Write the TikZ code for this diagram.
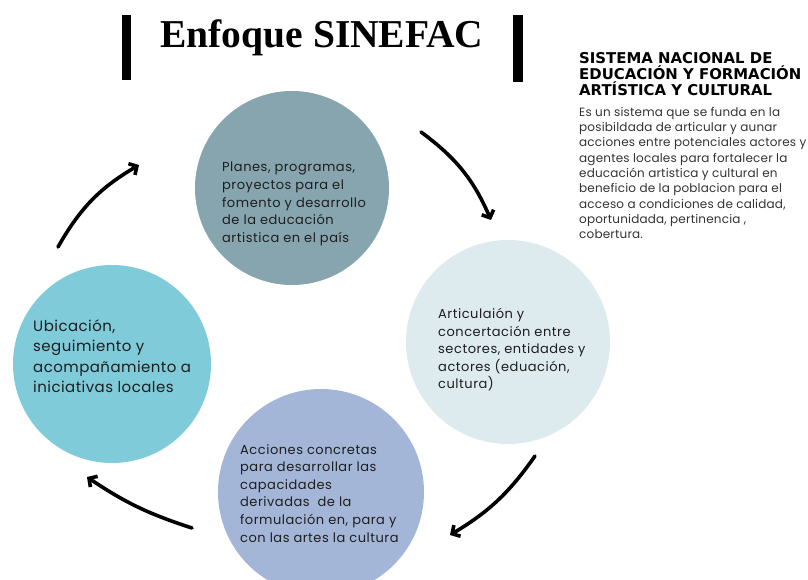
\documentclass[tikz,border=0pt]{standalone}
\usepackage{fontspec}
\setmainfont{Poppins}
\newfontfamily\titlefont{Liberation Serif}
\newfontfamily\headfont{DejaVu Sans}
\usetikzlibrary{arrows.meta, positioning}

\definecolor{plancol}{HTML}{87A5AF}
\definecolor{articol}{HTML}{DDEAEE}
\definecolor{ubicol}{HTML}{80CBD9}
\definecolor{accicol}{HTML}{A4B6D7}
\definecolor{inkcol}{HTML}{1E1E1E}

\begin{document}
\begin{tikzpicture}[x=1pt, y=-1pt,
    bubble/.style={circle, inner sep=0pt, minimum size=#1},
    txt/.style={inner sep=0pt, align=left, anchor=north west, text=inkcol,
      font=\fontsize{13}{17.6}\selectfont\addfontfeature{LetterSpace=4}},
    cyc/.style={line width=3.6pt, line cap=round, -{Straight Barb[length=6pt,width=13pt]}}]
  \useasboundingbox (0,0) rectangle (808,580);
  \node[bubble=194pt, fill=plancol] (plan) at (292,188) {};
  \node[bubble=204pt, fill=articol] (arti) at (508,342) {};
  \node[bubble=198pt, fill=ubicol] (ubic) at (112,364) {};
  \node[bubble=206pt, fill=accicol] (acci) at (321,492) {};

  \node[txt] (plantxt) at (222,162) {Planes, programas,\\proyectos para el\\fomento y desarrollo\\de la educación\\artistica en el país};
  \node[txt] (artitxt) at (438,308) {Articulaión y\\concertación entre\\sectores, entidades y\\actores (eduación,\\cultura)};
  \node[txt, font=\fontsize{15}{20.6}\selectfont\addfontfeature{LetterSpace=3}] (ubictxt) at (33,319) {Ubicación,\\seguimiento y\\acompañamiento a\\iniciativas locales};
  \node[txt] (accitxt) at (240,444) {Acciones concretas\\para desarrollar las\\capacidades\\derivadas \ de la\\formulación en, para y\\con las artes la cultura};

  \node[font=\titlefont\bfseries\fontsize{39.5}{40}\selectfont] (title) at (322,38) {Enfoque SINEFAC};
  \fill (122,15) rectangle (131,80);
  \fill (513,15) rectangle (523,82);

  \node[txt, font=\headfont\bfseries\fontsize{14.9}{16}\selectfont, text=black] (head) at (579,52) {SISTEMA NACIONAL DE\\EDUCACIÓN Y FORMACIÓN\\ARTÍSTICA Y CULTURAL};
  \node[txt, font=\fontsize{12}{15.3}\selectfont\addfontfeature{LetterSpace=1.5}, text=black!80] (body) at (579,107) {Es un sistema que se funda en la\\posibildada de articular y aunar\\acciones entre potenciales actores y\\agentes locales para fortalecer la\\educación artistica y cultural en\\beneficio de la poblacion para el\\acceso a condiciones de calidad,\\oportunidada, pertinencia ,\\cobertura.};

  \coordinate (a1) at (58,247);  \coordinate (b1) at (139,165);
  \coordinate (a2) at (421,132); \coordinate (b2) at (491,220);
  \coordinate (a3) at (535,456); \coordinate (b3) at (450,535);
  \coordinate (a4) at (192,528); \coordinate (b4) at (87,477);
  \draw[cyc] (a1) to[bend left=15] (b1);
  \draw[cyc] (a2) to[bend left=15] (b2);
  \draw[cyc] (a3) to[bend left=12] (b3);
  \draw[cyc] (a4) to[bend left=8] (b4);
\end{tikzpicture}
\end{document}
